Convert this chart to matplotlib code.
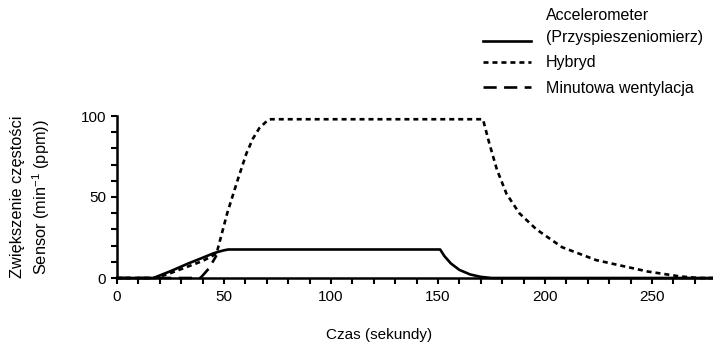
import numpy as np
import matplotlib
matplotlib.use("Agg")
import matplotlib.pyplot as plt
from matplotlib.ticker import MultipleLocator
from matplotlib.legend_handler import HandlerLine2D

plt.rcParams['font.family'] = ['Liberation Sans', 'DejaVu Sans']
plt.rcParams['mathtext.fontset'] = 'custom'
plt.rcParams['mathtext.rm'] = 'Liberation Sans'
plt.rcParams['mathtext.it'] = 'Liberation Sans:italic'

# series
acc_t = [0, 17, 25, 33, 40, 45, 48, 50, 52, 151, 153, 156, 160, 165, 170, 175, 280]
acc_v = [0, 0, 4.2, 8.8, 12.5, 15.2, 16.4, 17.1, 17.6, 17.6, 13.5, 9.0, 5.0, 2.2, 0.7, 0, 0]

hyb_t = [0, 18, 25, 32, 40, 46.5, 51.5, 56.5, 60.5, 63.5, 66.5, 70.5, 72,
         171, 174, 177.5, 182, 188, 196, 208, 224, 248, 263, 272, 280]
hyb_v = [0, 0, 3, 6.5, 10.5, 15, 40, 61, 77, 86, 92.5, 97.5, 98,
         98, 83, 67, 52, 40, 30, 19, 11, 4, 1, 0, 0]

mv_t = [0, 39, 43, 46.5]
mv_v = [0, 0, 6, 14]

labels = ['Accelerometer\n(Przyspieszeniomierz)', 'Hybryd', 'Minutowa wentylacja']


class ShiftedLine(HandlerLine2D):
    # put the handle next to the last line of a two-line label
    def __init__(self, shift, **kw):
        super().__init__(**kw)
        self.shift = shift

    def create_artists(self, legend, orig_handle, xdescent, ydescent,
                       width, height, fontsize, trans):
        arts = super().create_artists(legend, orig_handle, xdescent, ydescent,
                                      width, height, fontsize, trans)
        for a in arts:
            a.set_ydata(np.asarray(a.get_ydata()) - self.shift)
        return arts


fig = plt.figure(figsize=(7.13, 3.45), dpi=100)
ax = fig.add_axes([117/713, 67/345, 596/713, 162/345])

l1, = ax.plot(acc_t, acc_v, color='black', lw=1.9, clip_on=False)
l3, = ax.plot(mv_t, mv_v, color='black', lw=1.9, ls=(0, (5, 2.8)), clip_on=False)
l2, = ax.plot(hyb_t, hyb_v, color='black', lw=1.9, ls=(0, (1.9, 1.5)), clip_on=False)

ax.set_xlim(0, 278.5)
ax.set_ylim(0, 100)
ax.xaxis.set_major_locator(MultipleLocator(50))
ax.xaxis.set_minor_locator(MultipleLocator(10))
ax.yaxis.set_major_locator(MultipleLocator(50))
ax.yaxis.set_minor_locator(MultipleLocator(10))

for s in ['top', 'right']:
    ax.spines[s].set_visible(False)
for s in ['left', 'bottom']:
    ax.spines[s].set_linewidth(1.8)

ax.tick_params(which='both', direction='out', length=4.5, width=1.5, labelsize=11)
ax.tick_params(axis='x', pad=4)
ax.tick_params(axis='y', pad=3.5)

ax.set_xlabel('Czas (sekundy)', fontsize=11, va='top')
ax.xaxis.set_label_coords(0.44, -0.31)
ax.set_ylabel('Zwiększenie częstości\nSensor (min$^{-1}$ (ppm))', fontsize=11.8,
              multialignment='center', linespacing=1.3)
ax.yaxis.set_label_coords(-0.109, 0.5)

leg = fig.legend([l1, l2, l3], labels, loc='upper left',
                 bbox_to_anchor=(483/713, 1 - 8/345),
                 frameon=False, fontsize=11.5, borderpad=0, borderaxespad=0,
                 handlelength=3.0, handletextpad=0.95, labelspacing=0.66,
                 handler_map={l1: ShiftedLine(10)})
leg.get_texts()[0].set_linespacing(1.55)

fig.savefig('out.png', dpi=100)
